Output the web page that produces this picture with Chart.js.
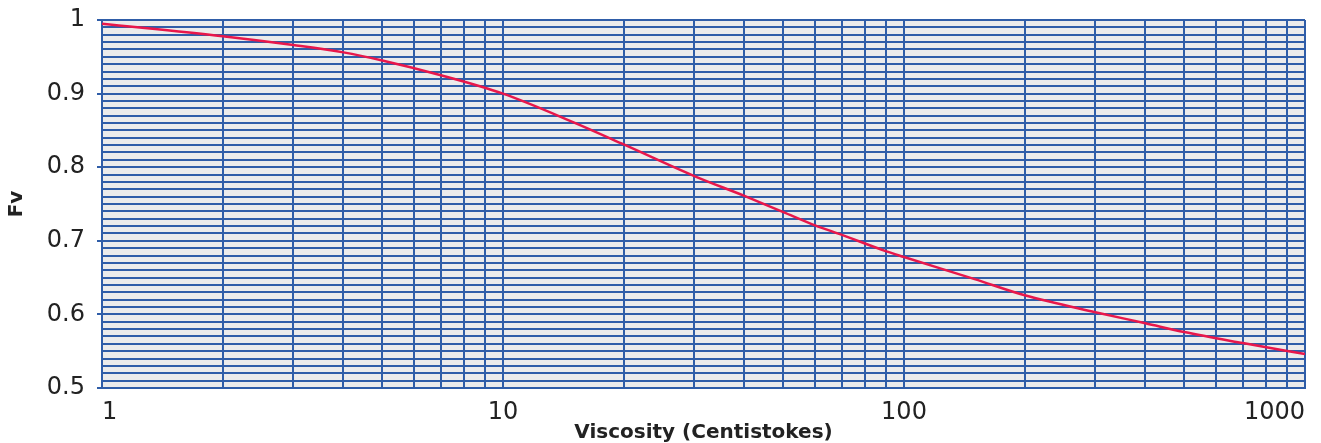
<!DOCTYPE html>
<html>
<head>
<meta charset="utf-8">
<script src="https://cdn.jsdelivr.net/npm/chart.js@4/dist/chart.umd.min.js"></script>
<style>
  html, body { margin: 0; padding: 0; background: #ffffff; }
  #wrap { width: 1321px; height: 443px; position: relative; }
</style>
</head>
<body>
<div id="wrap"><canvas id="c" width="1321" height="443"></canvas></div>
<script>
const viscosity = [1, 2, 3, 4, 5, 7, 10, 15, 20, 30, 40, 50, 60, 70, 90, 100, 150, 200, 300, 400, 500, 700, 1000];
const fv = [0.995, 0.978, 0.966, 0.956, 0.945, 0.925, 0.900, 0.861, 0.831, 0.788, 0.761, 0.739, 0.721, 0.708, 0.686, 0.678, 0.648, 0.626, 0.603, 0.588, 0.576, 0.561, 0.546];
const xGridValues = [1, 2, 3, 4, 5, 6, 7, 8, 9, 10, 20, 30, 40, 50, 60, 70, 80, 90, 100, 200, 300, 400, 500, 600, 700, 800, 900, 1000];
const xLabelValues = [1, 10, 100, 1000];
const yLabelValues = [0.5, 0.6, 0.7, 0.8, 0.9, 1.0];
const xTitle = 'Viscosity (Centistokes)';
const yTitle = 'Fv';

const gridBlue = '#2F5DA8';
const isYLabel = v => yLabelValues.some(t => Math.abs(t - v) < 1e-6);
const isXLabel = v => xLabelValues.some(t => Math.abs(t - v) < 1e-6);

const bgPlugin = {
  id: 'plotBg',
  beforeDraw(chart) {
    const a = chart.chartArea, ctx = chart.ctx;
    ctx.save();
    ctx.fillStyle = '#EBEBEB';
    ctx.fillRect(a.left, a.top, a.right - a.left, a.bottom - a.top);
    ctx.restore();
  }
};

new Chart(document.getElementById('c'), {
  type: 'scatter',
  data: {
    datasets: [{
      data: viscosity.map((x, i) => ({ x: x, y: fv[i] })),
      showLine: true,
      borderColor: '#E8174B',
      borderWidth: 2.5,
      pointRadius: 0,
      cubicInterpolationMode: 'monotone',
      fill: false
    }]
  },
  options: {
    responsive: false,
    animation: false,
    devicePixelRatio: 1,
    layout: { padding: { left: 0, right: 16, top: 20, bottom: 0 } },
    plugins: { legend: { display: false }, tooltip: { enabled: false } },
    scales: {
      x: {
        type: 'logarithmic',
        min: 1,
        max: 1000,
        afterBuildTicks(scale) { scale.ticks = xGridValues.map(v => ({ value: v })); },
        afterFit(scale) {
          scale.height = 55;
          scale.paddingLeft = 0;
          scale.paddingRight = 0;
        },
        border: { display: true, color: gridBlue, width: 2 },
        grid: { color: gridBlue, lineWidth: 2, drawTicks: false },
        ticks: {
          autoSkip: false,
          maxRotation: 0,
          align: 'inner',
          padding: 10,
          color: '#222222',
          font: { family: 'DejaVu Sans', size: 24 },
          callback: v => isXLabel(v) ? String(Math.round(v)) : ''
        },
        title: {
          display: true,
          text: xTitle,
          color: '#222222',
          font: { family: 'DejaVu Sans', size: 20, weight: 'bold', lineHeight: 1.0 },
          padding: { top: 0, bottom: 0 }
        }
      },
      y: {
        type: 'linear',
        min: 0.5,
        max: 1,
        afterFit(scale) {
          scale.width = 102;
          scale.paddingTop = 0;
          scale.paddingBottom = 0;
        },
        border: { display: true, color: gridBlue, width: 2 },
        grid: {
          color: gridBlue,
          lineWidth: 2,
          drawTicks: true,
          tickLength: 5,
          tickColor: ctx => (ctx.tick && isYLabel(ctx.tick.value)) ? gridBlue : 'rgba(0,0,0,0)'
        },
        ticks: {
          stepSize: 0.01,
          maxTicksLimit: 200,
          autoSkip: false,
          padding: 12,
          color: '#222222',
          font: { family: 'DejaVu Sans', size: 24 },
          callback: v => {
            const r = Math.round(v * 100);
            return (r % 10 === 0) ? String(r / 100) : '';
          }
        },
        title: {
          display: true,
          text: yTitle,
          color: '#222222',
          font: { family: 'DejaVu Sans', size: 20, weight: 'bold', lineHeight: 1.2 },
          padding: { top: 5, bottom: 0 }
        }
      }
    }
  },
  plugins: [bgPlugin]
});
</script>
</body>
</html>
